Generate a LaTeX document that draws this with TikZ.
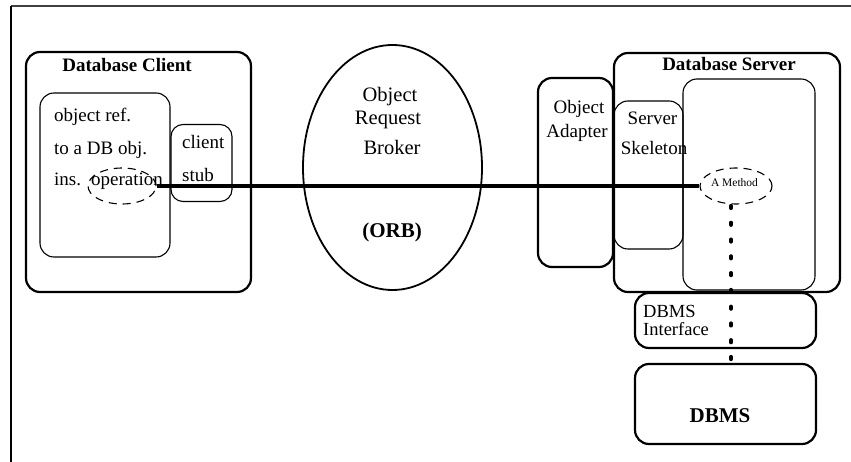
\documentclass[tikz,border=0pt]{standalone}
\usepackage{fontspec}
\setmainfont{Liberation Serif}
\usetikzlibrary{shapes.geometric}
\begin{document}
\begin{tikzpicture}[x=1pt,y=-1pt,
  box/.style={draw, rounded corners=14pt, inner sep=0pt},
  thickbox/.style={box, line width=2.2pt},
  thinbox/.style={box, line width=1.1pt},
  dashell/.style={draw, ellipse, dashed, dash pattern=on 8pt off 6pt, line width=1.1pt, inner sep=0pt},
  txt/.style={font=\fontsize{19}{22}\selectfont, inner sep=0pt, anchor=base},
  txtl/.style={txt, anchor=base west},
  btxt/.style={font=\fontsize{19}{22}\selectfont\bfseries, inner sep=0pt, anchor=base},
  link/.style={line width=4pt},
  dotline/.style={line width=4.2pt, line cap=round, dash pattern=on 2pt off 14.78pt}
]
\useasboundingbox (0,0) rectangle (851,462);
% frame
\coordinate (ftl) at (11,6);
\coordinate (ftr) at (851,6);
\coordinate (fbl) at (11,462);
\draw[line width=1.3pt, black!75] (ftr) -- (ftl);
\draw[line width=1.5pt] (ftl) -- (fbl);

% client side
\node[thickbox, minimum width=225pt, minimum height=240pt] (client) at (138.5,172) {};
\node[btxt] at (127,72) {Database Client};
\node[thinbox, minimum width=130pt, minimum height=164pt] (cinner) at (105,175) {};
\node[thinbox, rounded corners=12pt, minimum width=61pt, minimum height=77pt] (stub) at (201.5,163) {};
\node[txtl] at (54,122) {object ref.};
\node[txtl] at (54,155) {to a DB obj.};
\node[txtl] at (54,186) {ins.};
\node[txtl] at (182,149) {client};
\node[txtl] at (182,182) {stub};
\node[dashell, minimum width=68pt, minimum height=36pt] (op) at (122,186) {};
\node[txtl] at (91,186) {operation};

% ORB
\node[draw, ellipse, line width=1.8pt, minimum width=179pt, minimum height=245pt, inner sep=0pt] (orb) at (392.5,167.5) {};
\node[txt, font=\fontsize{20.5}{24}\selectfont] at (390,102) {Object};
\node[txt, font=\fontsize{20.5}{24}\selectfont] at (388,125) {Request};
\node[txt, font=\fontsize{20.5}{24}\selectfont] at (392,155) {Broker};
\node[btxt, font=\fontsize{21}{24}\selectfont\bfseries] at (392,238) {(ORB)};

% object adapter
\node[thickbox, minimum width=75pt, minimum height=189pt] (adapter) at (575.5,172.5) {};
\node[txt] at (579,114) {Object};
\node[txt] at (577,138) {Adapter};

% server
\node[thickbox, minimum width=226pt, minimum height=239pt] (server) at (727,172.5) {};
\node[btxt] at (729,71) {Database Server};
\node[thinbox, minimum width=69pt, minimum height=148pt] (skel) at (648.5,175) {};
\node[txt] at (652.5,125) {Server};
\node[txt] at (654,155) {Skeleton};
\node[thinbox, minimum width=132pt, minimum height=211pt] (impl) at (749,184.5) {};
\node[dashell, minimum width=72pt, minimum height=36pt] (meth) at (736,186) {};
\node[txt, font=\fontsize{11.5}{13}\selectfont] at (734.5,187) {A Method};

% DBMS
\node[thickbox, minimum width=181pt, minimum height=55pt] (iface) at (725.5,320.5) {};
\node[txtl, font=\fontsize{18.5}{20}\selectfont] at (643,317) {DBMS};
\node[txtl, font=\fontsize{18.5}{20}\selectfont] at (643,335) {Interface};
\node[thickbox, minimum width=181pt, minimum height=80pt] (dbms) at (725.5,404) {};
\node[btxt, font=\fontsize{21}{24}\selectfont\bfseries] at (720,422) {DBMS};

% connectors
\draw[link] (op.east) -- (meth.west);
\coordinate (dtop) at (731,206);
\draw[dotline] (dtop) -- ([yshift=-4pt]dtop |- dbms.north);
\end{tikzpicture}
\end{document}
